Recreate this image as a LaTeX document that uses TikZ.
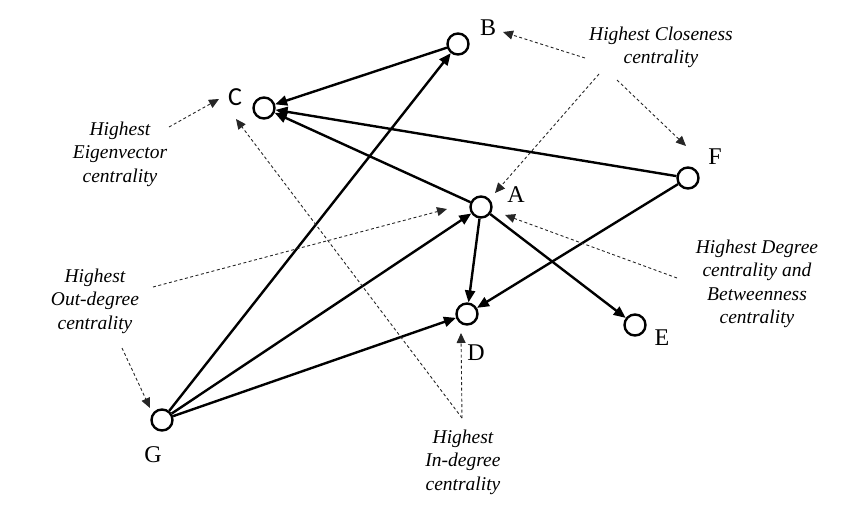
\documentclass[tikz,border=0pt]{standalone}
\usepackage{fontspec}
\setmainfont{Liberation Serif}
\newfontfamily\csans{Carlito}
\usetikzlibrary{arrows.meta}
\tikzset{
  vtx/.style={circle,draw=black,line width=2.4pt,minimum size=21pt,inner sep=0pt,fill=white},
  lbl/.style={font=\fontsize{24}{28}\selectfont,inner sep=0pt},
  annot/.style={font=\fontsize{19.5}{23.5}\selectfont\itshape,align=center,inner sep=0pt},
  edge/.style={line width=2.4pt,-{Triangle[length=12pt,width=10pt]}},
  hint/.style={dashed,dash pattern=on 3pt off 2.5pt,line width=0.9pt,black!85,-{Triangle[length=10pt,width=9pt]}}
}
\begin{document}
\begin{tikzpicture}[x=1pt,y=-1pt]
\useasboundingbox (0,0) rectangle (850,509);
% vertices
\node[vtx] (B) at (458,44) {};
\node[vtx] (C) at (264,108) {};
\node[vtx] (A) at (481,207) {};
\node[vtx] (F) at (688,178) {};
\node[vtx] (D) at (467,314) {};
\node[vtx] (E) at (635,325) {};
\node[vtx] (G) at (162,420) {};
% labels
\node[lbl] (lB) at (488,28) {B};
\node[lbl,font=\fontsize{26}{30}\selectfont\csans] (lC) at (235,97) {C};
\node[lbl] (lA) at (516,195) {A};
\node[lbl] (lF) at (715,157) {F};
\node[lbl] (lE) at (662,338) {E};
\node[lbl] (lD) at (476,353) {D};
\node[lbl] (lG) at (153,455) {G};
% edges
\draw[edge] (B) -- (C);
\draw[edge] (F) -- (C);
\draw[edge] (A) -- (C);
\draw[edge] (G) -- (B);
\draw[edge] (G) -- (A);
\draw[edge] (G) -- (D);
\draw[edge] (A) -- (D);
\draw[edge] (F) -- (D);
\draw[edge] (A) -- (E);
% annotations
\node[annot] (tClose) at (661,47.5) {Highest Closeness\\centrality};
\node[annot] (tEigen) at (120,154) {Highest\\Eigenvector\\centrality};
\node[annot] (tDeg) at (757,284) {Highest Degree\\centrality and\\Betweenness\\centrality};
\node[annot] (tOut) at (95,301) {Highest\\Out-degree\\centrality};
\node[annot] (tIn) at (463,462) {Highest\\In-degree\\centrality};
% hint coordinates
\coordinate (c1s) at (585,58);   \coordinate (c1e) at (503,32);
\coordinate (c2s) at (617,80);   \coordinate (c2e) at (686,146);
\coordinate (c3s) at (599,74);   \coordinate (c3e) at (495,193);
\coordinate (e1s) at (169,127);  \coordinate (e1e) at (219,99);
\coordinate (i0)  at (462,418);
\coordinate (i1e) at (236,119);  \coordinate (i2e) at (461,333);
\coordinate (d1s) at (677,278);  \coordinate (d1e) at (505,215);
\coordinate (o1s) at (153,287);  \coordinate (o1e) at (447,209);
\coordinate (o2s) at (122,348);  \coordinate (o2e) at (150,408);
% hint arrows
\draw[hint] (c1s) -- (c1e);
\draw[hint] (c2s) -- (c2e);
\draw[hint] (c3s) -- (c3e);
\draw[hint] (e1s) -- (e1e);
\draw[hint] (i0) -- (i1e);
\draw[hint] (i0) -- (i2e);
\draw[hint] (d1s) -- (d1e);
\draw[hint] (o1s) -- (o1e);
\draw[hint] (o2s) -- (o2e);
\end{tikzpicture}
\end{document}
